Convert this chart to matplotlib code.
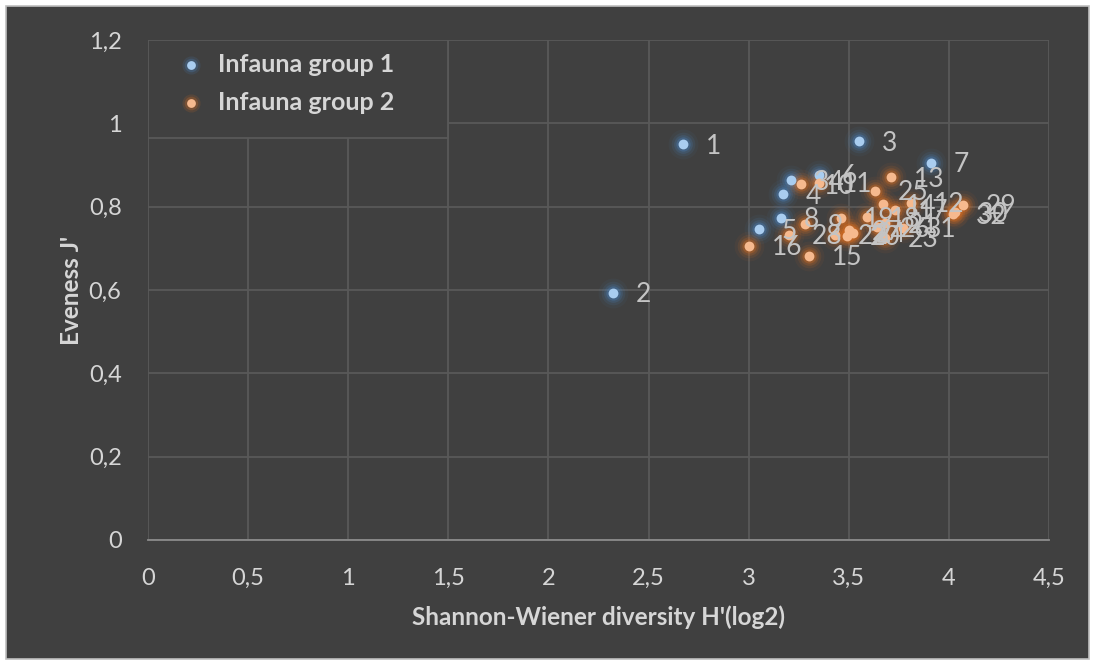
import matplotlib
matplotlib.use("Agg")
import matplotlib.pyplot as plt
from matplotlib.patches import Rectangle

# Shannon-Wiener diversity (log2) and Pielou evenness per sample
g1_labels = ["1", "2", "3", "4", "5", "6", "7", "8", "34"]
g1_h = [2.67, 2.32, 3.55, 3.17, 3.05, 3.35, 3.91, 3.16, 3.21]
g1_j = [0.950, 0.593, 0.957, 0.830, 0.746, 0.876, 0.905, 0.773, 0.864]

g2_labels = ["9", "10", "11", "12", "13", "14", "15", "16", "17", "18", "19",
             "20", "21", "22", "23", "24", "25", "26", "27", "28", "29", "30",
             "31", "32"]
g2_h = [3.28, 3.26, 3.35, 3.81, 3.71, 3.67, 3.30, 3.00, 3.73, 3.59, 3.46,
        3.49, 3.68, 3.43, 3.68, 3.52, 3.63, 3.64, 3.50, 3.20, 4.07, 4.03,
        3.77, 4.02]
g2_j = [0.758, 0.854, 0.857, 0.809, 0.871, 0.806, 0.682, 0.706, 0.792, 0.775,
        0.773, 0.730, 0.760, 0.732, 0.725, 0.737, 0.838, 0.751, 0.744, 0.732,
        0.804, 0.787, 0.749, 0.782]

x_ticks = [0, 0.5, 1, 1.5, 2, 2.5, 3, 3.5, 4, 4.5]
y_ticks = [0, 0.2, 0.4, 0.6, 0.8, 1.0, 1.2]

BG = "#404040"
GRID = "#595959"
TXT = "#d6d6d6"
plt.rcParams["font.family"] = ["Lato", "DejaVu Sans"]

fig = plt.figure(figsize=(10.95, 6.63), dpi=100, facecolor="white")
fig.patches.append(Rectangle((6 / 1095, 4 / 663), 1083 / 1095, 653 / 663,
                             transform=fig.transFigure, facecolor=BG,
                             edgecolor="#bfbfbf", linewidth=1.2, zorder=-5))

ax = fig.add_axes([148 / 1095, 123 / 663, 901 / 1095, 500 / 663])
ax.set_facecolor(BG)
ax.patch.set_alpha(0)
ax.set_xlim(0, 4.5)
ax.set_ylim(0, 1.2)
ax.set_xticks(x_ticks)
ax.set_yticks(y_ticks)
fmt = lambda v: f"{v:g}".replace(".", ",")
ax.set_xticklabels([fmt(v) for v in x_ticks])
ax.set_yticklabels([fmt(v) for v in y_ticks])
ax.grid(True, color=GRID, linewidth=1.3)
ax.set_axisbelow(True)
for side in ("top", "right", "left"):
    ax.spines[side].set_visible(False)
ax.spines["bottom"].set_color("#8c8c8c")
ax.spines["bottom"].set_linewidth(1.3)
ax.tick_params(length=0, colors=TXT, labelsize=17)
ax.tick_params(axis="x", pad=20)
ax.tick_params(axis="y", pad=19)

ax.set_xlabel("Shannon-Wiener diversity H'(log2)", color=TXT, fontsize=17.5,
              fontweight="bold", labelpad=12)
ax.set_ylabel("Eveness J'", color=TXT, fontsize=17.5, fontweight="bold",
              labelpad=4)


def glow_scatter(xs, ys, core, halo, zorder):
    for s, a in ((460, 0.06), (290, 0.11), (180, 0.18), (105, 0.3)):
        ax.scatter(xs, ys, s=s, color=halo, alpha=a, linewidths=0, zorder=zorder)
    ax.scatter(xs, ys, s=50, color=core, linewidths=0, zorder=zorder + 0.1)


glow_scatter(g1_h, g1_j, "#a9cdf0", "#4a86c5", 3)
glow_scatter(g2_h, g2_j, "#f6b98e", "#e07020", 3)

for lab, x, y in list(zip(g1_labels, g1_h, g1_j)) + list(zip(g2_labels, g2_h, g2_j)):
    ax.annotate(lab, (x, y), xytext=(23, -2), textcoords="offset pixels",
                ha="left", va="center", fontsize=19, color="#c4c4c4", zorder=5)

# legend panel in the upper-left corner, drawn over the grid
ax.add_patch(Rectangle((0, 1 - 98 / 500), 1 / 3, 98 / 500, transform=ax.transAxes,
                       facecolor=BG, edgecolor=GRID, linewidth=1.3, zorder=1))
for i, (name, core, halo) in enumerate((("Infauna group 1", "#a9cdf0", "#4a86c5"),
                                        ("Infauna group 2", "#f6b98e", "#e07020"))):
    ly = 1 - (25 + 38 * i) / 500
    lx = 43 / 901
    for s, a in ((170, 0.14), (95, 0.25)):
        ax.scatter([lx], [ly], s=s, color=halo, alpha=a, linewidths=0,
                   transform=ax.transAxes, zorder=6)
    ax.scatter([lx], [ly], s=40, color=core, linewidths=0,
               transform=ax.transAxes, zorder=6.1)
    ax.text(70 / 901, ly, name, transform=ax.transAxes, ha="left", va="center",
            fontsize=18, fontweight="bold", color=TXT, zorder=6)

fig.savefig("out.png", dpi=100, facecolor=fig.get_facecolor())
